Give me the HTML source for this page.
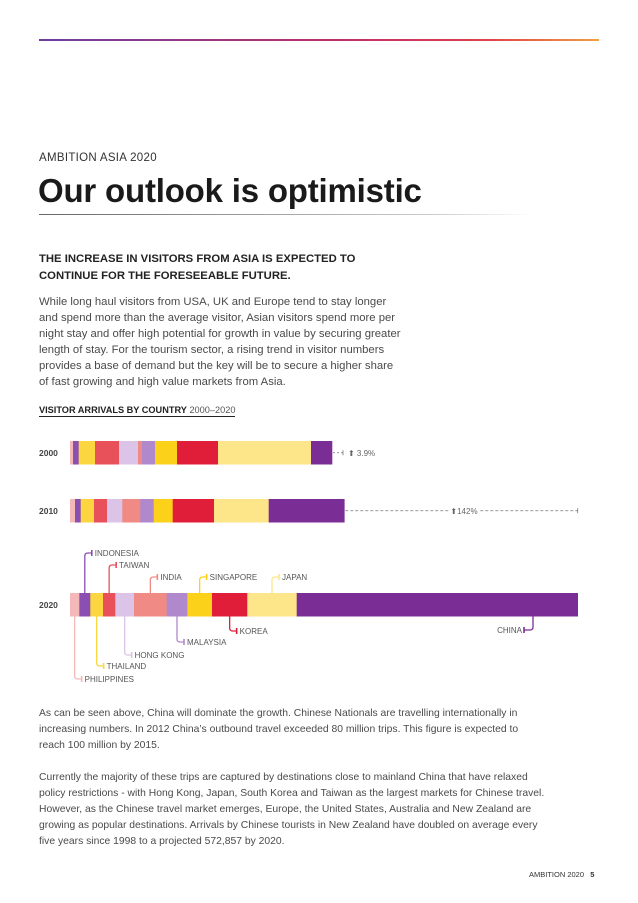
<!DOCTYPE html>
<html><head><meta charset="utf-8">
<style>
body{margin:0;background:#fff;}
#page{position:relative;width:638px;height:903px;overflow:hidden;font-family:"Liberation Sans",Arial,sans-serif;color:#3a3a3a;}
.abs{position:absolute;white-space:nowrap;}
.p{font-size:11.3px;line-height:16px;color:#4a4a4a;left:39px;}
.p2{font-size:10.35px;line-height:16px;color:#4a4a4a;left:39px;}
</style></head>
<body>
<div id="page">
<div class="abs" style="left:39px;top:39px;width:560px;height:2px;background:linear-gradient(90deg,#6d3fa0,#c0306a 55%,#e0404a 80%,#f0a040);"></div>
<div class="abs" style="left:39px;top:152px;font-size:11.5px;color:#333;letter-spacing:0.3px;">AMBITION ASIA 2020</div>
<div class="abs" style="left:38px;top:172px;font-size:33px;font-weight:bold;color:#1a1a1a;letter-spacing:-0.2px;">Our outlook is optimistic</div>
<div class="abs" style="left:39px;top:214px;width:495px;height:1px;background:linear-gradient(90deg,#666,#ccc 80%,#fff);"></div>
<div class="abs" style="left:39px;top:251px;font-size:11.3px;font-weight:bold;line-height:17px;color:#222;">THE INCREASE IN VISITORS FROM ASIA IS EXPECTED TO<br>CONTINUE FOR THE FORESEEABLE FUTURE.</div>
<div class="abs p" style="top:294px;">While long haul visitors from USA, UK and Europe tend to stay longer<br>and spend more than the average visitor, Asian visitors spend more per<br>night stay and offer high potential for growth in value by securing greater<br>length of stay. For the tourism sector, a rising trend in visitor numbers<br>provides a base of demand but the key will be to secure a higher share<br>of fast growing and high value markets from Asia.</div>
<div class="abs" style="left:39px;top:405px;font-size:9.2px;color:#222;border-bottom:1px solid #222;padding-bottom:1px;"><b>VISITOR ARRIVALS BY COUNTRY</b> <span style="color:#555">2000–2020</span></div>

<svg class="abs" style="left:0;top:0" width="638" height="903" id="chart"></svg>

<div class="abs p2" style="top:706px;">As can be seen above, China will dominate the growth. Chinese Nationals are travelling internationally in<br>increasing numbers. In 2012 China’s outbound travel exceeded 80 million trips. This figure is expected to<br>reach 100 million by 2015.</div>
<div class="abs p2" style="top:770px;">Currently the majority of these trips are captured by destinations close to mainland China that have relaxed<br>policy restrictions - with Hong Kong, Japan, South Korea and Taiwan as the largest markets for Chinese travel.<br>However, as the Chinese travel market emerges, Europe, the United States, Australia and New Zealand are<br>growing as popular destinations. Arrivals by Chinese tourists in New Zealand have doubled on average every<br>five years since 1998 to a projected 572,857 by 2020.</div>
<div class="abs" style="left:529px;top:870px;font-size:7.5px;color:#333;">AMBITION 2020 &nbsp; <b>5</b></div>
</div>
<script>
const countries=["PHILIPPINES","INDONESIA","THAILAND","TAIWAN","HONG KONG","INDIA","MALAYSIA","SINGAPORE","KOREA","JAPAN","CHINA"];
const colors=["#f4b8b8","#8a4fb0","#fcd640","#e8505a","#dcc3e8","#f08a84","#b088cc","#fbd11a","#e01e3a","#fde68a","#7b2d96"];
const years=["2000","2010","2020"];
const v2000=[3,5.7,16.3,24,19,4,13,22,41,93,21];
const v2010=[5,5.7,13.3,13,15.3,18,13.4,19,41.3,54.7,75.6];
const v2020=[9.3,11,12.7,12.3,18.7,32.7,20.6,24.7,35.3,49.4,281];
const growthLabels=["3.9%","142%"];
const series=[v2000,v2010,v2020];
const NS="http://www.w3.org/2000/svg";
const svg=document.getElementById('chart');
const x0=70,maxW=507.7;
const total2020=v2020.reduce((a,b)=>a+b,0);
const xs=v=>x0+v*maxW/total2020;
const rowTop=[441,499,593],barH=23.5;
function mk(t,a){const e=document.createElementNS(NS,t);for(const k in a)e.setAttribute(k,a[k]);svg.appendChild(e);return e;}
const ends=[];
series.forEach((vals,r)=>{
  let cum=0;
  const yl=mk('text',{x:39,y:rowTop[r]+barH/2+3,'font-size':8.5,'font-weight':'bold',fill:'#444','font-family':'Liberation Sans, sans-serif'});
  yl.textContent=years[r];
  
  
  vals.forEach((v,i)=>{
    const rc=mk('rect',{x:xs(cum),y:rowTop[r],width:xs(cum+v)-xs(cum)+0.3,height:barH,fill:colors[i]});
    
    
    cum+=v;
  });
  ends.push(cum);
});
const ft='Liberation Sans, sans-serif';
{const xe=xs(ends[0]),y=rowTop[0]+barH/2;
 mk('line',{x1:xe+1,y1:y,x2:xe+11,y2:y,stroke:'#777','stroke-dasharray':'2,2','stroke-width':0.8});
 mk('line',{x1:xe+11,y1:y-2.5,x2:xe+11,y2:y+2.5,stroke:'#777','stroke-width':0.8});
 const t=mk('text',{x:xe+16,y:y+3,'font-size':8,fill:'#666','font-family':ft});t.textContent='⬆ '+growthLabels[0];
 
 }
{const xe=xs(ends[1]),xe2=xs(ends[2]),y=rowTop[1]+barH/2;
 mk('line',{x1:xe+1,y1:y,x2:xe2,y2:y,stroke:'#777','stroke-dasharray':'3,2','stroke-width':0.8});
 mk('line',{x1:xe2,y1:y-2.5,x2:xe2,y2:y+2.5,stroke:'#777','stroke-width':0.8});
 const mid=(xe+xe2)/2+3;
 mk('rect',{x:mid-15,y:y-5,width:30,height:10,fill:'#fff'});
 const t=mk('text',{x:mid,y:y+3,'font-size':8,fill:'#666','text-anchor':'middle','font-family':ft});t.textContent='⬆'+growthLabels[1];
 
 }
const callouts=[[1,553,1],[3,565,1],[5,577,1],[7,577,1],[9,577,1],[8,631,0],[6,642,0],[4,655,0],[2,666,0],[0,679,0]];
let cum=0;const mids=[];
v2020.forEach(v=>{mids.push(xs(cum+v/2));cum+=v;});
callouts.forEach(([i,ly,up])=>{
  const xm=mids[i];const yb=up?rowTop[2]:rowTop[2]+barH;
  const hx=xm+7;
  const d=up?`M${xm},${yb} L${xm},${ly+3} Q${xm},${ly} ${xm+3},${ly} L${hx},${ly}`:`M${xm},${yb} L${xm},${ly-3} Q${xm},${ly} ${xm+3},${ly} L${hx},${ly}`;
  mk('path',{d:d,stroke:colors[i],'stroke-width':1.3,fill:'none'});
  mk('line',{x1:hx,y1:ly-3,x2:hx,y2:ly+3,stroke:colors[i],'stroke-width':1.6});
  const t=mk('text',{x:hx+3,y:ly+3,'font-size':8,fill:'#555','font-family':ft});
  t.textContent=countries[i];
  
  
});
{const xm=533,yb=rowTop[2]+barH,ly=630,c=colors[10];
 mk('path',{d:`M${xm},${yb} L${xm},${ly-3} Q${xm},${ly} ${xm-3},${ly} L${xm-9},${ly}`,stroke:c,'stroke-width':1.3,fill:'none'});
 mk('line',{x1:xm-9,y1:ly-3,x2:xm-9,y2:ly+3,stroke:c,'stroke-width':1.6});
 const t=mk('text',{x:xm-11,y:ly+3,'font-size':8,fill:'#555','text-anchor':'end','font-family':ft});t.textContent=countries[10];
 
 }
</script>
</body></html>
